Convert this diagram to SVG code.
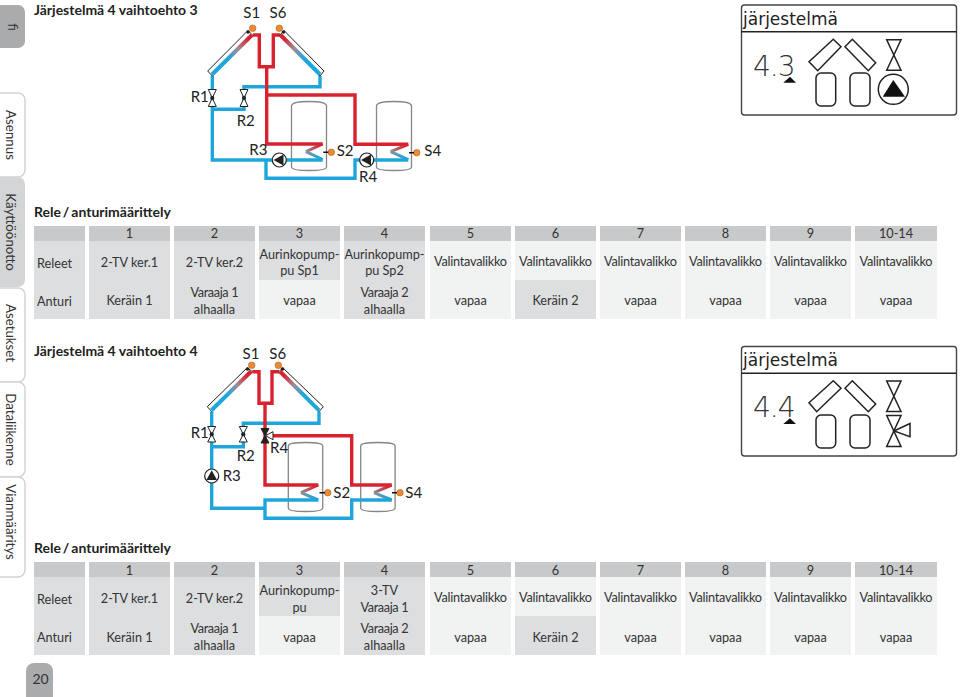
<svg xmlns="http://www.w3.org/2000/svg" width="960" height="697" viewBox="0 0 960 697">
<style>
text{font-family:Lato,"Liberation Sans",sans-serif;fill:#333;font-size:12.700px}
.m{text-anchor:middle}
.h{font-weight:700;font-size:14px;fill:#222}
.r{word-spacing:-1.500px}
.lb{font-size:15px;fill:#222}
.t{font-size:13.300px}
.hd{fill:#c8c9ca}.c{fill:#dddedf}.l{fill:#f1f2f2}
.tab{fill:#fff;stroke:#d4d4d4;stroke-width:1.500}
.red{fill:none;stroke:#d8232f;stroke-width:3.400}
.blue{fill:none;stroke:#1ea6dc;stroke-width:3.400}
.tank{fill:none;stroke:#858585;stroke-width:1.300}
.sn{fill:#ee8a33;stroke:#a9662a;stroke-width:.6}
.v{fill:#fff;stroke:#222;stroke-width:1}
.p{fill:#fff;stroke:#222;stroke-width:1.200}
.col{fill:#fff;stroke:#222;stroke-width:1}
.lcd{fill:none;stroke:#222;stroke-width:1.500}
.pnl{fill:#fff;stroke:#444;stroke-width:1.400}
.lt{font-family:"DejaVu Sans",sans-serif;font-size:17px;fill:#222}
.ld{font-family:"DejaVu Sans",sans-serif;font-size:28px;font-weight:200;fill:#333;letter-spacing:-1px}
</style>
<defs>
<linearGradient id="g1" x1="0" y1="1" x2="1" y2="0"><stop offset="0.4" stop-color="#1ea6dc"/><stop offset="0.65" stop-color="#a08c98"/><stop offset="0.9" stop-color="#d8232f"/></linearGradient>
<linearGradient id="g2" x1="1" y1="1" x2="0" y2="0"><stop offset="0.4" stop-color="#1ea6dc"/><stop offset="0.65" stop-color="#a08c98"/><stop offset="0.9" stop-color="#d8232f"/></linearGradient>
<linearGradient id="cr" x1="1" y1="0" x2="0" y2="0"><stop offset="0.2" stop-color="#d8232f"/><stop offset="1" stop-color="#8d8f93"/></linearGradient>
<linearGradient id="cb" x1="0" y1="0" x2="1" y2="0"><stop offset="0" stop-color="#8d8f93"/><stop offset="0.8" stop-color="#1ea6dc"/></linearGradient>
</defs>
<g id="tabs">
<rect x="-10" y="5" width="35" height="43" rx="7" fill="#aaabad"/>
<text class="m t" transform="translate(8,27) rotate(90)">fi</text>
<rect class="tab" x="-10" y="93" width="35" height="84" rx="7"/>
<text class="m t" transform="translate(6,135) rotate(90)">Asennus</text>
<rect x="-10" y="177" width="35" height="110" rx="7" fill="#d4d5d6"/>
<text class="m t" transform="translate(6,232) rotate(90)">Käyttöönotto</text>
<rect class="tab" x="-10" y="288" width="35" height="94" rx="7"/>
<text class="m t" transform="translate(6,333) rotate(90)">Asetukset</text>
<rect class="tab" x="-10" y="382" width="35" height="95" rx="7"/>
<text class="m t" transform="translate(6,429.500) rotate(90)">Dataliikenne</text>
<rect class="tab" x="-10" y="477" width="35" height="100" rx="7"/>
<text class="m t" transform="translate(6,522) rotate(90)">Vianmääritys</text>
<path d="M26 697V671a8 8 0 0 1 8-8H45a8 8 0 0 1 8 8V697Z" fill="#aaabad"/>
<text class="m" x="40.500" y="684" style="font-size:14px">20</text>
</g>
<g id="headings">
<text class="h" x="34" y="15">Järjestelmä 4 vaihtoehto 3</text>
<text class="h r" x="34" y="216.500">Rele / anturimäärittely</text>
<text class="h" x="34" y="356">Järjestelmä 4 vaihtoehto 4</text>
<text class="h r" x="34" y="553">Rele / anturimäärittely</text>
</g>
<g id="table1">
<rect class="hd" x="34" y="226" width="51" height="15"/><rect class="hd" x="89" y="226" width="81" height="15"/><rect class="hd" x="174" y="226" width="81" height="15"/><rect class="hd" x="259" y="226" width="81" height="15"/><rect class="hd" x="344" y="226" width="81" height="15"/><rect class="hd" x="430" y="226" width="81" height="15"/><rect class="hd" x="515" y="226" width="81" height="15"/><rect class="hd" x="600" y="226" width="81" height="15"/><rect class="hd" x="685" y="226" width="81" height="15"/><rect class="hd" x="770" y="226" width="81" height="15"/><rect class="hd" x="855" y="226" width="82" height="15"/>
<rect class="c" x="34" y="241" width="51" height="78"/><rect class="c" x="89" y="241" width="81" height="78"/><rect class="c" x="174" y="241" width="81" height="78"/><rect class="c" x="259" y="241" width="81" height="39"/><rect class="l" x="259" y="280" width="81" height="39"/><rect class="c" x="344" y="241" width="81" height="78"/>
<rect class="l" x="430" y="241" width="81" height="78"/><rect class="l" x="515" y="241" width="81" height="39"/><rect class="c" x="515" y="280" width="81" height="39"/><rect class="l" x="600" y="241" width="81" height="78"/><rect class="l" x="685" y="241" width="81" height="78"/><rect class="l" x="770" y="241" width="81" height="78"/><rect class="l" x="855" y="241" width="82" height="78"/>
<text class="m" x="129.500" y="238">1</text><text class="m" x="214.500" y="238">2</text><text class="m" x="299.500" y="238">3</text><text class="m" x="384.500" y="238">4</text><text class="m" x="470.500" y="238">5</text><text class="m" x="555.500" y="238">6</text><text class="m" x="640.500" y="238">7</text><text class="m" x="725.500" y="238">8</text><text class="m" x="810.500" y="238">9</text><text class="m" x="896" y="238">10-14</text>
<text x="37" y="267.500">Releet</text><text x="37" y="305.500">Anturi</text>
<text class="m" x="129.500" y="266.500">2-TV ker.1</text><text class="m" x="214.500" y="266.500">2-TV ker.2</text>
<text class="m" x="299.500" y="258.500" textLength="80">Aurinkopump-</text><text class="m" x="299.500" y="275">pu Sp1</text>
<text class="m" x="384.500" y="258.500" textLength="80">Aurinkopump-</text><text class="m" x="384.500" y="275">pu Sp2</text>
<text class="m" x="470.500" y="265.500" textLength="73">Valintavalikko</text><text class="m" x="555.500" y="265.500" textLength="73">Valintavalikko</text><text class="m" x="640.500" y="265.500" textLength="73">Valintavalikko</text><text class="m" x="725.500" y="265.500" textLength="73">Valintavalikko</text><text class="m" x="810.500" y="265.500" textLength="73">Valintavalikko</text><text class="m" x="896" y="265.500" textLength="73">Valintavalikko</text>
<text class="m" x="129.500" y="305">Keräin 1</text>
<text class="m" x="214.500" y="296.500" textLength="48">Varaaja 1</text><text class="m" x="214.500" y="313.500">alhaalla</text>
<text class="m" x="299.500" y="305">vapaa</text>
<text class="m" x="384.500" y="296.500" textLength="48">Varaaja 2</text><text class="m" x="384.500" y="313.500">alhaalla</text>
<text class="m" x="470.500" y="305">vapaa</text><text class="m" x="555.500" y="305">Keräin 2</text><text class="m" x="640.500" y="305">vapaa</text><text class="m" x="725.500" y="305">vapaa</text><text class="m" x="810.500" y="305">vapaa</text><text class="m" x="896" y="305">vapaa</text>
</g>
<g id="table2">
<rect class="hd" x="34" y="562" width="51" height="15"/><rect class="hd" x="89" y="562" width="81" height="15"/><rect class="hd" x="174" y="562" width="81" height="15"/><rect class="hd" x="259" y="562" width="81" height="15"/><rect class="hd" x="344" y="562" width="81" height="15"/><rect class="hd" x="430" y="562" width="81" height="15"/><rect class="hd" x="515" y="562" width="81" height="15"/><rect class="hd" x="600" y="562" width="81" height="15"/><rect class="hd" x="685" y="562" width="81" height="15"/><rect class="hd" x="770" y="562" width="81" height="15"/><rect class="hd" x="855" y="562" width="82" height="15"/>
<rect class="c" x="34" y="577" width="51" height="78"/><rect class="c" x="89" y="577" width="81" height="78"/><rect class="c" x="174" y="577" width="81" height="78"/><rect class="c" x="259" y="577" width="81" height="39"/><rect class="l" x="259" y="616" width="81" height="39"/><rect class="c" x="344" y="577" width="81" height="78"/>
<rect class="l" x="430" y="577" width="81" height="78"/><rect class="l" x="515" y="577" width="81" height="39"/><rect class="c" x="515" y="616" width="81" height="39"/><rect class="l" x="600" y="577" width="81" height="78"/><rect class="l" x="685" y="577" width="81" height="78"/><rect class="l" x="770" y="577" width="81" height="78"/><rect class="l" x="855" y="577" width="82" height="78"/>
<text class="m" x="129.500" y="574.500">1</text><text class="m" x="214.500" y="574.500">2</text><text class="m" x="299.500" y="574.500">3</text><text class="m" x="384.500" y="574.500">4</text><text class="m" x="470.500" y="574.500">5</text><text class="m" x="555.500" y="574.500">6</text><text class="m" x="640.500" y="574.500">7</text><text class="m" x="725.500" y="574.500">8</text><text class="m" x="810.500" y="574.500">9</text><text class="m" x="896" y="574.500">10-14</text>
<text x="37" y="604">Releet</text><text x="37" y="642">Anturi</text>
<text class="m" x="129.500" y="602.500">2-TV ker.1</text><text class="m" x="214.500" y="602.500">2-TV ker.2</text>
<text class="m" x="299.500" y="594.500" textLength="80">Aurinkopump-</text><text class="m" x="299.500" y="611.500">pu</text>
<text class="m" x="384.500" y="594.500">3-TV</text><text class="m" x="384.500" y="611.500" textLength="48">Varaaja 1</text>
<text class="m" x="470.500" y="602" textLength="73">Valintavalikko</text><text class="m" x="555.500" y="602" textLength="73">Valintavalikko</text><text class="m" x="640.500" y="602" textLength="73">Valintavalikko</text><text class="m" x="725.500" y="602" textLength="73">Valintavalikko</text><text class="m" x="810.500" y="602" textLength="73">Valintavalikko</text><text class="m" x="896" y="602" textLength="73">Valintavalikko</text>
<text class="m" x="129.500" y="641.500">Keräin 1</text>
<text class="m" x="214.500" y="632.500" textLength="48">Varaaja 1</text><text class="m" x="214.500" y="650">alhaalla</text>
<text class="m" x="299.500" y="641.500">vapaa</text>
<text class="m" x="384.500" y="632.500" textLength="48">Varaaja 2</text><text class="m" x="384.500" y="650">alhaalla</text>
<text class="m" x="470.500" y="641.500">vapaa</text><text class="m" x="555.500" y="641.500">Keräin 2</text><text class="m" x="640.500" y="641.500">vapaa</text><text class="m" x="725.500" y="641.500">vapaa</text><text class="m" x="810.500" y="641.500">vapaa</text><text class="m" x="896" y="641.500">vapaa</text>
</g>
<g id="diagram1">
<g id="d1-tanks"><path class="tank" d="M291.500 167V106q0-4.500 17.500-4.500t17.500 4.500V167q0 3.500-17.500 3.500t-17.500-3.500Z"/><path class="tank" d="M376.500 167V106q0-4.500 17.500-4.500t17.500 4.500V167q0 3.500-17.500 3.500t-17.500-3.500Z"/></g>
<g id="d1-connectors">
<path class="blue" d="M212.300 76V160H272"/>
<path class="blue" d="M212.300 109.300H244V86.700H320V76"/>
<path class="blue" d="M266 160V178.300H355V160H361M279 160H322.700M367 160H408.300"/>
<path class="red" d="M253 35H259.300V66.700H273.300V35H280M266.700 66.700V144H322.700M266.700 95H355V144.300H408.300"/>
<path d="M322.700 144L306 151.700" fill="none" stroke="url(#cr)" stroke-width="3"/><path d="M306 151.700L322.700 159.500" fill="none" stroke="url(#cb)" stroke-width="3"/>
<path d="M408.300 144.300L390.700 151.700" fill="none" stroke="url(#cr)" stroke-width="3"/><path d="M390.700 151.700L408.300 159.700" fill="none" stroke="url(#cb)" stroke-width="3"/>
</g>
<g id="d1-collectors">
<path class="col" d="M207.700 71L248 30.500L253 35.500L212.300 76Z"/><path d="M212 74.500L252 35" stroke="url(#g1)" stroke-width="4" fill="none"/>
<path class="col" d="M324 71L284 30.500L279.500 35.500L320 76Z"/><path d="M320 74.500L280.500 35" stroke="url(#g2)" stroke-width="4" fill="none"/>
<circle cx="248" cy="32" r="1.800" fill="#222"/><circle cx="283.500" cy="32" r="1.800" fill="#222"/>
</g>
<g id="d1-valve-R1"><path class="v" d="M208.300 89.500H216.300L208.300 106.500H216.300Z"/><circle cx="212.300" cy="98" r="2" fill="#222"/></g>
<g id="d1-valve-R2"><path class="v" d="M240 89.500H248L240 106.500H248Z"/><circle cx="244" cy="98" r="2" fill="#222"/></g>
<g id="d1-pump-R3"><circle class="p" cx="279.300" cy="160" r="7"/><path d="M273.500 160L283.500 154.500V165.500Z" fill="#222"/></g>
<g id="d1-pump-R4"><circle class="p" cx="366.700" cy="160" r="7"/><path d="M361 160L371 154.500V165.500Z" fill="#222"/></g>
<g id="d1-sensors">
<circle class="sn" cx="252.700" cy="28.300" r="3.300"/><circle class="sn" cx="279.300" cy="28.300" r="3.300"/><circle class="sn" cx="331.300" cy="152.300" r="3.300"/><circle class="sn" cx="416.700" cy="152.700" r="3.300"/>
<path d="M323.300 152.300H328.300M409 152.700H414" stroke="#111" stroke-width="1.600"/>
</g>
<g id="d1-labels">
<text class="lb m" x="251.700" y="18">S1</text><text class="lb m" x="278" y="18">S6</text>
<text class="lb" x="190.700" y="102">R1</text><text class="lb" x="236.700" y="126">R2</text><text class="lb" x="249.300" y="155">R3</text><text class="lb" x="336.700" y="155.700">S2</text><text class="lb" x="424.300" y="155.700">S4</text><text class="lb" x="359" y="182">R4</text>
</g>
</g>
<g id="diagram2">
<g id="d2-tanks"><path class="tank" d="M288.300 508V446q0-3.500 17.200-3.500t17.200 3.500V508q0 3.500-17.200 3.500t-17.200-3.500Z"/><path class="tank" d="M360.700 508V446q0-3.500 17.200-3.500t17.200 3.500V508q0 3.500-17.200 3.500t-17.200-3.500Z"/></g>
<g id="d2-connectors">
<path class="blue" d="M211.700 411.700V508.300H265"/>
<path class="blue" d="M211.700 446.700H243.300V423.300H319V411.700"/>
<path class="blue" d="M318.300 500H265V518.300H351.700V500H391.700"/>
<path class="red" d="M252.300 371.700H259V403.300H272V371.700H279M265 403.300V485H318.300M270 435.700H351.700V485H391.700"/>
<path d="M318.300 485L301 492.700" fill="none" stroke="url(#cr)" stroke-width="3"/><path d="M301 492.700L318.300 500" fill="none" stroke="url(#cb)" stroke-width="3"/>
<path d="M391.700 485L374 492.700" fill="none" stroke="url(#cr)" stroke-width="3"/><path d="M374 492.700L391.700 500" fill="none" stroke="url(#cb)" stroke-width="3"/>
</g>
<g id="d2-collectors">
<path class="col" d="M207.300 406.700L247.300 367.700L252.300 371.700L211.700 411.700Z"/><path d="M211.500 410.300L251 371.500" stroke="url(#g1)" stroke-width="4" fill="none"/>
<path class="col" d="M323.300 406.700L282.700 367.700L279 371.700L319 411.700Z"/><path d="M319 410.300L280 371.500" stroke="url(#g2)" stroke-width="4" fill="none"/>
<circle cx="247.500" cy="369" r="1.800" fill="#222"/><circle cx="282.500" cy="369" r="1.800" fill="#222"/>
</g>
<g id="d2-valve-R1"><path class="v" d="M207.700 426.500H215.700L207.700 442H215.700Z"/><circle cx="211.700" cy="434.300" r="2" fill="#222"/></g>
<g id="d2-valve-R2"><path class="v" d="M239.300 426.500H247.300L239.300 442H247.300Z"/><circle cx="243.300" cy="434.300" r="2" fill="#222"/></g>
<g id="d2-valve-R4"><path d="M261 428.500H269L261 443H269Z" fill="#222" stroke="#222"/><path class="v" d="M265.500 435.700L273 431.700V439.700Z"/></g>
<g id="d2-pump-R3"><circle class="p" cx="211.700" cy="476" r="7"/><path d="M211.700 470.300L217 480H206.400Z" fill="#222"/></g>
<g id="d2-sensors">
<circle class="sn" cx="251.700" cy="365.300" r="3.300"/><circle class="sn" cx="278.300" cy="365.300" r="3.300"/><circle class="sn" cx="327.700" cy="492.700" r="3.300"/><circle class="sn" cx="400" cy="492.700" r="3.300"/>
<path d="M319.500 492.700H325M392 492.700H397" stroke="#111" stroke-width="1.600"/>
</g>
<g id="d2-labels">
<text class="lb m" x="251" y="359">S1</text><text class="lb m" x="277.700" y="359">S6</text>
<text class="lb" x="190.700" y="438.300">R1</text><text class="lb" x="236.700" y="460.700">R2</text><text class="lb" x="222.700" y="481.300">R3</text><text class="lb" x="270" y="453.300">R4</text><text class="lb" x="333.300" y="498.300">S2</text><text class="lb" x="405.300" y="498.300">S4</text>
</g>
</g>
<g id="panel1">
<rect class="pnl" x="741.500" y="5" width="215" height="110" rx="3"/>
<path d="M741.500 31.700H956.500" stroke="#222" stroke-width="1.400"/>
<text class="lt" x="743" y="24.500">järjestelmä</text>
<text class="ld" x="753" y="76">4.3</text>
<path d="M783.300 82.700L790 76.700L796 82.700Z" fill="#111"/>
<path class="lcd" d="M809 61.700L833.300 39.300L841 46.700L817.700 70.700Z"/><path class="lcd" d="M845 46.700L852.300 39.300L875.700 62.700L868.300 70.700Z"/>
<path class="lcd" d="M886.700 39.800H901L886.700 70.300H901Z"/>
<rect class="lcd" x="816" y="73" width="19.700" height="33" rx="5"/><rect class="lcd" x="850" y="73" width="20" height="33" rx="5"/>
<circle class="lcd" cx="893.300" cy="89.300" r="15"/><path d="M882.700 96.700L893.300 80L905 96.700Z" fill="#111"/>
</g>
<g id="panel2">
<rect class="pnl" x="741.500" y="346.500" width="215" height="109.500" rx="3"/>
<path d="M741.500 373.300H956.500" stroke="#222" stroke-width="1.400"/>
<text class="lt" x="743" y="366">järjestelmä</text>
<text class="ld" x="753" y="417">4.4</text>
<path d="M783.300 424L790 418.300L796 424Z" fill="#111"/>
<path class="lcd" d="M809 402.700L833.300 380.700L841 388.300L816.700 411.700Z"/><path class="lcd" d="M845 388.300L852.300 380.700L875.700 404L868.300 411.700Z"/>
<path class="lcd" d="M886.700 381H901L886.700 411.500H901Z"/>
<rect class="lcd" x="816" y="415" width="19.700" height="33" rx="5"/><rect class="lcd" x="850" y="415" width="20" height="33" rx="5"/>
<path class="lcd" d="M886.700 415.500H901L886.700 446.500H901Z"/><path class="lcd" d="M894 431L910 423.500V436.700Z"/>
</g>
</svg>
